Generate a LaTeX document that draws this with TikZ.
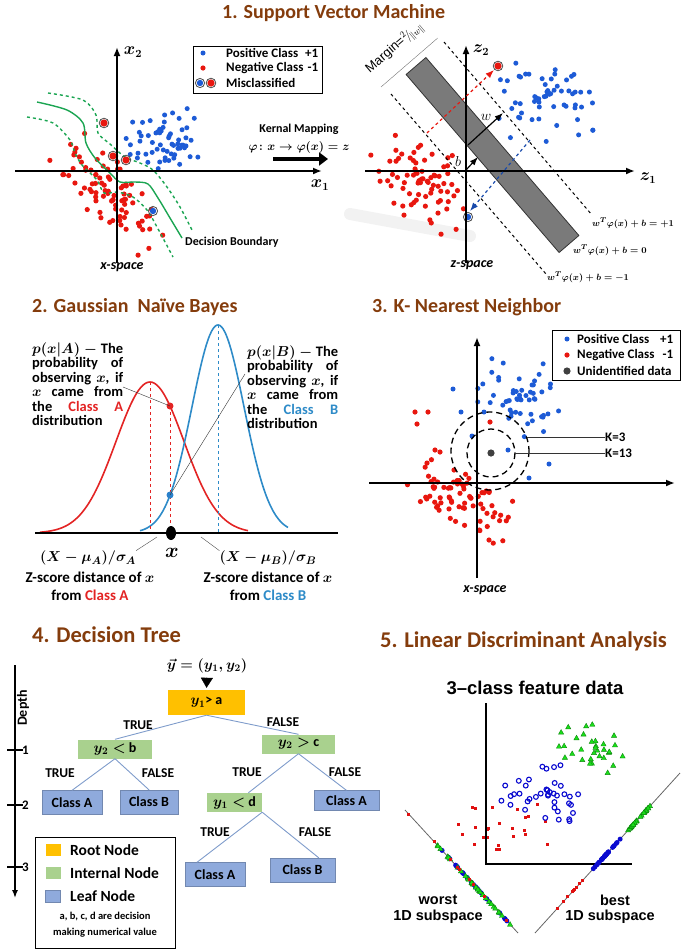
\documentclass[tikz,border=0pt]{standalone}
\usepackage{fontspec}
\setmainfont{Carlito}
\newfontfamily\arialfont{Liberation Sans}
\usepackage{amsmath,bm}
\usetikzlibrary{arrows.meta,positioning,calc}
\definecolor{TitleBrown}{HTML}{843C0C}
\definecolor{PosBlue}{HTML}{1D5BD6}
\definecolor{NegRed}{HTML}{E8170F}
\definecolor{BoundGreen}{HTML}{1BA552}
\definecolor{CurveRed}{HTML}{E32424}
\definecolor{CurveBlue}{HTML}{2E8BC8}
\definecolor{RootOrange}{HTML}{FFC000}
\definecolor{InnerGreen}{HTML}{A9D18E}
\definecolor{LeafBlue}{HTML}{8FAADC}
\definecolor{EdgeBlue}{HTML}{7F9CCB}
\definecolor{LdaGreen}{HTML}{19E019}
\definecolor{LdaBlue}{HTML}{0A0AD0}
\definecolor{LdaRed}{HTML}{E01010}
% scatter: n, cx, cy, spread u, spread v, angle, pic
\newcommand{\cloud}[7]{%
  \foreach \k in {1,...,#1}{%
    \pgfmathsetmacro{\cloudu}{(#4)*(rand+rand)/2}%
    \pgfmathsetmacro{\cloudv}{(#5)*(rand+rand)/2}%
    \path ({#2+(\cloudu)*cos(#6)-(\cloudv)*sin(#6)},{#3+(\cloudu)*sin(#6)+(\cloudv)*cos(#6)}) pic {#7};
  }}
% one spread-out line of the Gaussian text blocks
\newcommand{\jline}[1]{\makebox[91pt][s]{#1}}
\newcommand{\fnt}[1]{\bfseries\boldmath\fontsize{#1}{#1}\selectfont}
\tikzset{
  posdot/.pic={\fill[PosBlue] (0,0) circle (2.5);},
  negdot/.pic={\fill[NegRed] (0,0) circle (2.6);},
  mispos/.pic={\fill[PosBlue] (0,0) circle (3.2); \draw[black!70,line width=.8] (0,0) circle (4.6);},
  misneg/.pic={\fill[NegRed] (0,0) circle (3.6); \draw[black!70,line width=.8] (0,0) circle (4.8);},
  graydot/.pic={\fill[black!75] (0,0) circle (3.6);},
  ldatri/.pic={\draw[LdaGreen!60!black,fill=LdaGreen,line width=.4] (0,-2.9) -- (2.6,1.7) -- (-2.6,1.7) -- cycle;},
  ldaring/.pic={\draw[LdaBlue,line width=1.1] (0,0) circle (2.4);},
  ldadot/.pic={\fill[LdaBlue] (0,0) circle (2.5);},
  ldasq/.pic={\fill[LdaRed] (-1.5,-1.5) rectangle (1.5,1.5);},
}
\begin{document}
\begin{tikzpicture}[x=1pt,y=-1pt,font=\fnt{12},
  title/.style={font=\fnt{20},text=TitleBrown,anchor=west,inner sep=0},
  leg/.style={anchor=west,inner sep=0},
  axis/.style={line width=2pt,-{Latex[length=9pt,width=7pt]}},
  bound/.style={BoundGreen,line width=1.4pt},
  mlab/.style={font=\fnt{16},inner sep=0},
  space/.style={font=\bfseries\itshape\fontsize{14}{14}\selectfont,inner sep=0},
  eqn/.style={anchor=west,inner sep=0,font=\fnt{9.5}},
  gtext/.style={font=\fnt{14.5},align=left,inner sep=0,anchor=north west},
  zlab/.style={font=\fnt{15},inner sep=0},
  treebox/.style={font=\fnt{14},inner sep=1pt},
  rootnode/.style={treebox,fill=RootOrange,minimum width=77,minimum height=25},
  innernode/.style={treebox,fill=InnerGreen,minimum height=19},
  leafnode/.style={treebox,fill=LeafBlue,draw=LeafBlue!80!black,line width=.3pt,minimum width=60,minimum height=24},
  edge/.style={EdgeBlue,line width=.9pt},
  tf/.style={font=\fnt{13.5},inner sep=0},
  arial/.style={font=\arialfont\bfseries\fontsize{14.5}{16}\selectfont,inner sep=0}]
\useasboundingbox (0,0) rectangle (685,951);
\pgfmathsetseed{11}

% titles
\node[title] (ttl1) at (222,13) {1. Support Vector Machine};
\node[title] (ttl2) at (32,307) {2. Gaussian~ Naïve Bayes};
\node[title] (ttl3) at (372,307) {3. K- Nearest Neighbor};
\node[title,font=\fnt{22.5}] (ttl4) at (32,635) {4. Decision Tree};
\node[title,font=\fnt{22.5}] (ttl5) at (380,641) {5. Linear Discriminant Analysis};

% 1. SVM -- x-space
\cloud{60}{163}{138}{45}{36}{0}{posdot}
\cloud{85}{108}{193}{75}{33}{46}{negdot}
\draw[bound] plot[smooth] coordinates {(37,102) (67,110) (83,123) (86,143) (95,158) (110,173) (120,182) (135,182) (148,184) (158,198) (170,218) (182,238)};
\draw[bound,dashed] plot[smooth] coordinates {(48,93) (83,100) (96,115) (98,133) (110,144) (125,157) (140,163) (153,170) (167,187) (180,207) (193,232)};
\draw[bound,dashed] plot[smooth] coordinates {(27,117) (53,123) (70,140) (75,153) (82,165) (97,180) (104,193) (117,192) (133,197) (147,210) (157,227) (173,257)};
\path (104,123) pic {misneg} (113,156) pic {misneg} (126,160) pic {misneg} (153,211) pic {mispos};
\draw[axis] (15,171) -- (322,171);
\draw[axis] (117,263) -- (117,47);
\node[mlab] (x1lab) at (320,185) {$\bm{x_1}$};
\node[mlab] (x2lab) at (133,52) {$\bm{x_2}$};
\node[draw,fill=white,line width=.8pt,minimum width=129,minimum height=47,inner sep=0] (leg1) at (257.5,69.5) {};
\path (203,53) pic {posdot} (203,68) pic {negdot} (200,83) pic {mispos} (211,83) pic {misneg};
\node[leg,font=\fnt{13}] (leg1a) at (226,53) {\makebox[92pt][l]{Positive Class\hfill+1}};
\node[leg,font=\fnt{13}] (leg1b) at (226,68) {\makebox[92pt][l]{Negative Class\hfill-1}};
\node[leg,font=\fnt{13}] (leg1c) at (226,83) {Misclassified};
\node[leg] (dblab) at (185,242) {Decision Boundary};
\node[space] (xsp) at (122,267) {x-space};

% kernel mapping
\node[inner sep=0] (kern) at (299,129) {Kernal Mapping};
\node[inner sep=0,font=\fnt{12}] (phimap) at (299,147) {$\bm{\varphi\colon x\to\varphi(x)=z}$};
\draw[line width=4.5pt,-{Triangle[length=9pt,width=13pt]}] (273,159) -- (328,159);

% 1. SVM -- z-space
\draw[black!5,line width=12pt,line cap=round] (350,214) -- (470,236);
\cloud{75}{420}{185}{62}{48}{35}{negdot}
\cloud{60}{548}{100}{60}{45}{0}{posdot}
\path (498,66) pic {misneg} (468,217) pic {mispos};
\draw[fill=black!52,draw=black!80,line width=.8pt] (425.9,57.5) -- (578.9,235.5) -- (559.1,252.5) -- (406.1,74.5) -- cycle;
\draw[dashed,line width=1pt] (444,42) -- (592,215);
\draw[dashed,line width=1pt] (391,94) -- (546,274);
\draw[axis] (365,171) -- (635,171);
\draw[axis] (466,263) -- (466,45);
\draw[NegRed,dashed,line width=1.2pt,-{Latex}] (427,133) -- (494,70);
\draw[PosBlue!80!black,dashed,line width=1.2pt,-{Latex}] (530,140) -- (470,211);
\draw[line width=1.2pt,-{Latex}] (468,145) -- (503,113);
\draw[line width=1.2pt,-{Latex}] (466,170) -- (478,157);
\node[font=\fontsize{14}{14}\selectfont,inner sep=0] (wlab) at (486,117) {$w$};
\node[font=\fontsize{14}{14}\selectfont,inner sep=0] (blab) at (458,161) {$b$};
\node[mlab] (z1lab) at (648,178) {$\bm{z_1}$};
\node[mlab] (z2lab) at (481,50) {$\bm{z_2}$};
\draw[black!55] (381,87) -- (437.6,38.1);
\node[rotate=40.7,font=\arialfont\fontsize{13}{13}\selectfont,inner sep=0] (marg) at (395,48) {Margin=$^{2}\!/\!_{\|w\|}$};
\node[eqn] (eqp) at (592,223) {$w^T\varphi(x)+b=+1$};
\node[eqn] (eqz) at (573,250) {$w^T\varphi(x)+b=0$};
\node[eqn] (eqm) at (547,277) {$w^T\varphi(x)+b=-1$};
\node[space] (zsp) at (472,265) {z-space};

% 2. Gaussian Naive Bayes
\draw[CurveRed,line width=1.6pt] plot[domain=40:248,samples=90,smooth] (\x,{533-151*exp(-((\x-150)^2)/2312)});
\draw[CurveBlue,line width=1.6pt] plot[domain=140:288,samples=90,smooth] (\x,{533-208*exp(-((\x-218)^2)/1352)});
\draw[CurveRed,dashed] (150,382) -- (150,533);
\draw[CurveRed,dashed] (170,406) -- (170,533);
\draw[CurveBlue,dashed] (218,325) -- (218,533);
\draw[line width=2.5pt] (35,533) -- (338,533);
\fill[CurveRed] (170,406) circle (3.5);
\fill[CurveBlue!80!PosBlue] (170,495) circle (3.5);
\fill[black] (171,533) ellipse (5 and 7);
\node[inner sep=0,font=\fnt{22}] (xmark) at (172,553) {$x$};
\node[gtext] (txtA) at (32,342) {\jline{$p(x|A)$ $-$ The}\\\jline{probability of}\\\jline{observing $x$, if}\\\jline{$x$ came from}\\\jline{the \textcolor{CurveRed}{Class A}}\\distribution};
\node[gtext] (txtB) at (247,345) {\jline{$p(x|B)$ $-$ The}\\\jline{probability of}\\\jline{observing $x$, if}\\\jline{$x$ came from}\\\jline{the \textcolor{CurveBlue}{Class B}}\\distribution};
\draw[black!80] (123,387) -- (170,406);
\draw[black!80] (245,374) -- (170,495);
\node[zlab,font=\fnt{15}] (zA) at (88,558) {$(X-\mu_A)/\sigma_A$};
\node[zlab] (zA2) at (90,577) {Z-score distance of $x$};
\node[zlab] (zA3) at (90,595) {from \textcolor{CurveRed}{Class A}};
\node[zlab,font=\fnt{15}] (zB) at (268,558) {$(X-\mu_B)/\sigma_B$};
\node[zlab] (zB2) at (268,577) {Z-score distance of $x$};
\node[zlab] (zB3) at (268,595) {from \textcolor{CurveBlue}{Class B}};
\draw[black!70] (zA.north east) -- (157,537);
\draw[black!70] (zB.north west) -- (201,537);

% 3. K-nearest neighbour
\cloud{55}{520}{398}{52}{42}{0}{posdot}
\cloud{75}{466}{500}{66}{28}{30}{negdot}
\foreach \p in {(453,389),(461,412),(484,412),(549,464),(529,478),(472,436),(508,450)} \path \p pic {posdot};
\foreach \p in {(415,412),(428,412),(417,424),(490,422),(435,450),(440,452),(454,470),(489,540)} \path \p pic {negdot};
\draw[axis] (369,483) -- (675,483);
\draw[axis] (477,578) -- (477,337);
\draw[line width=1.3pt,dash pattern=on 6pt off 4pt] (491,453) circle (24);
\draw[line width=1.3pt,dash pattern=on 6pt off 4pt] (490,451) circle (39);
\path (491,453) pic {graydot};
\node[leg,font=\fnt{13}] (k3) at (605,437) {K=3};
\node[leg,font=\fnt{13}] (k13) at (605,453) {K=13};
\draw[black!80] (527,437) -- (k3.west);
\draw[black!80] (514,453) -- (k13.west);
\node[draw,fill=white,line width=.8pt,minimum width=128,minimum height=50,inner sep=0] (leg3) at (616,355) {};
\path (567,339) pic {posdot} (567,355) pic {negdot} (567,371) pic {graydot};
\node[leg,font=\fnt{13}] (leg3a) at (577,339) {\makebox[96pt][l]{Positive Class\hfill+1}};
\node[leg,font=\fnt{13}] (leg3b) at (577,355) {\makebox[96pt][l]{Negative Class\hfill-1}};
\node[leg,font=\fnt{13}] (leg3c) at (577,371) {Unidentified data};
\node[space] (xsp3) at (485,590) {x-space};

% 4. Decision tree
\draw[line width=1.5pt,-{Latex[length=8pt,width=6pt]}] (15,665) -- (15,898);
\foreach \d/\yy in {1/750,2/805,3/867}{
  \draw[line width=1.5pt] (7,\yy) -- (23,\yy);
  \node[anchor=west,inner sep=0,font=\fnt{13}] (dep\d) at (22,\yy) {\d};
}
\node[rotate=90,inner sep=0,font=\fnt{14}] (depth) at (23,708) {Depth};
\node[inner sep=0,font=\fnt{14.5}] (yvec) at (207,666) {$\vec{y}=(y_1,y_2)$};
\node[rootnode] (root) at (206.5,702.5) {$y_1$> a};
\node[innernode,minimum width=74] (nyb) at (115,749) {$y_2 <$ b};
\node[innernode,minimum width=73] (nyc) at (298.5,744) {$y_2 >$ c};
\node[innernode,minimum width=55] (nyd) at (234.5,802.5) {$y_1 <$ d};
\node[leafnode] (cA1) at (72,802.5) {Class A};
\node[leafnode,minimum width=58] (cB1) at (149,802) {Class B};
\node[leafnode,minimum width=65,minimum height=20] (cA2) at (346.5,800.5) {Class A};
\node[leafnode] (cA3) at (215,874.5) {Class A};
\node[leafnode,minimum width=65] (cB3) at (302.5,870) {Class B};
\draw[-{Triangle[length=10pt,width=12pt]},shorten <=4pt,shorten >=2pt] (yvec.south) -- (root.north);
\draw[edge] (root.south) -- (nyb.north);
\draw[edge] (root.south) -- (nyc.north);
\draw[edge] (nyb.south) -- (cA1.north);
\draw[edge] (nyb.south) -- (cB1.north);
\draw[edge] (nyc.south) -- ($(nyd.north)!.5!(nyd.north east)$);
\draw[edge] (nyc.south) -- (cA2.north);
\draw[edge] (nyd.south east) -- ($(cA3.north)!.6!(cA3.north west)$);
\draw[edge] (nyd.south east) -- ($(cB3.north)!.5!(cB3.north east)$);
\node[tf] (tt1) at (138,725) {TRUE};
\node[tf] (tf1) at (283,722) {FALSE};
\node[tf] (tt2) at (60,773) {TRUE};
\node[tf] (tf2) at (158,773) {FALSE};
\node[tf] (tt3) at (247,772) {TRUE};
\node[tf] (tf3) at (345,772) {FALSE};
\node[tf] (tt4) at (215,832) {TRUE};
\node[tf] (tf4) at (315,832) {FALSE};
\node[draw,line width=.8pt,minimum width=140,minimum height=111,inner sep=0] (leg4) at (105,892.5) {};
\node[fill=RootOrange,minimum width=15,minimum height=12,inner sep=0] (sq1) at (53,850) {};
\node[fill=InnerGreen,minimum width=15,minimum height=12,inner sep=0] (sq2) at (53,873) {};
\node[fill=LeafBlue,draw=LeafBlue!80!black,minimum width=15,minimum height=12,inner sep=0] (sq3) at (53,896) {};
\node[leg,font=\fnt{15.5}] (lr) at (70,850) {Root Node};
\node[leg,font=\fnt{15.5}] (li) at (70,873) {Internal Node};
\node[leg,font=\fnt{15.5}] (ll) at (70,896) {Leaf Node};
\node[inner sep=0,font=\bfseries\fontsize{10.5}{16}\selectfont,align=center] (lnote) at (105,925) {a, b, c, d are decision\\making numerical value};

% 5. Linear discriminant analysis
\node[inner sep=0,font=\arialfont\bfseries\fontsize{18.5}{20}\selectfont] (ldattl) at (535,688) {3–class feature data};
\cloud{25}{502}{822}{54}{48}{0}{ldasq}
\cloud{40}{545}{795}{45}{33}{0}{ldaring}
\cloud{32}{594}{748}{40}{26}{22}{ldatri}
\draw[line width=2pt] (486,703) -- (486,864) -- (632,864);
\draw[black!60,line width=.8pt] (405,810) -- (518,933);
\draw[black!60,line width=.8pt] (535,933) -- (680,773);
\cloud{28}{472.8}{883.8}{58}{0}{47.4}{ldadot}
\cloud{32}{467}{877.7}{75}{0}{47.4}{ldatri}
\cloud{10}{461.5}{871.5}{90}{0}{47.4}{ldasq}
\cloud{14}{570.5}{893.8}{32}{0}{-47.8}{ldasq}
\cloud{38}{606.8}{853.8}{24}{0}{-47.8}{ldadot}
\cloud{30}{640.1}{817}{24}{0}{-47.8}{ldatri}
\node[arial] (worst) at (438,900) {worst};
\node[arial] (worst2) at (438,917) {1D subspace};
\node[arial] (best) at (615,900) {best};
\node[arial] (best2) at (610,917) {1D subspace};
\end{tikzpicture}
\end{document}
